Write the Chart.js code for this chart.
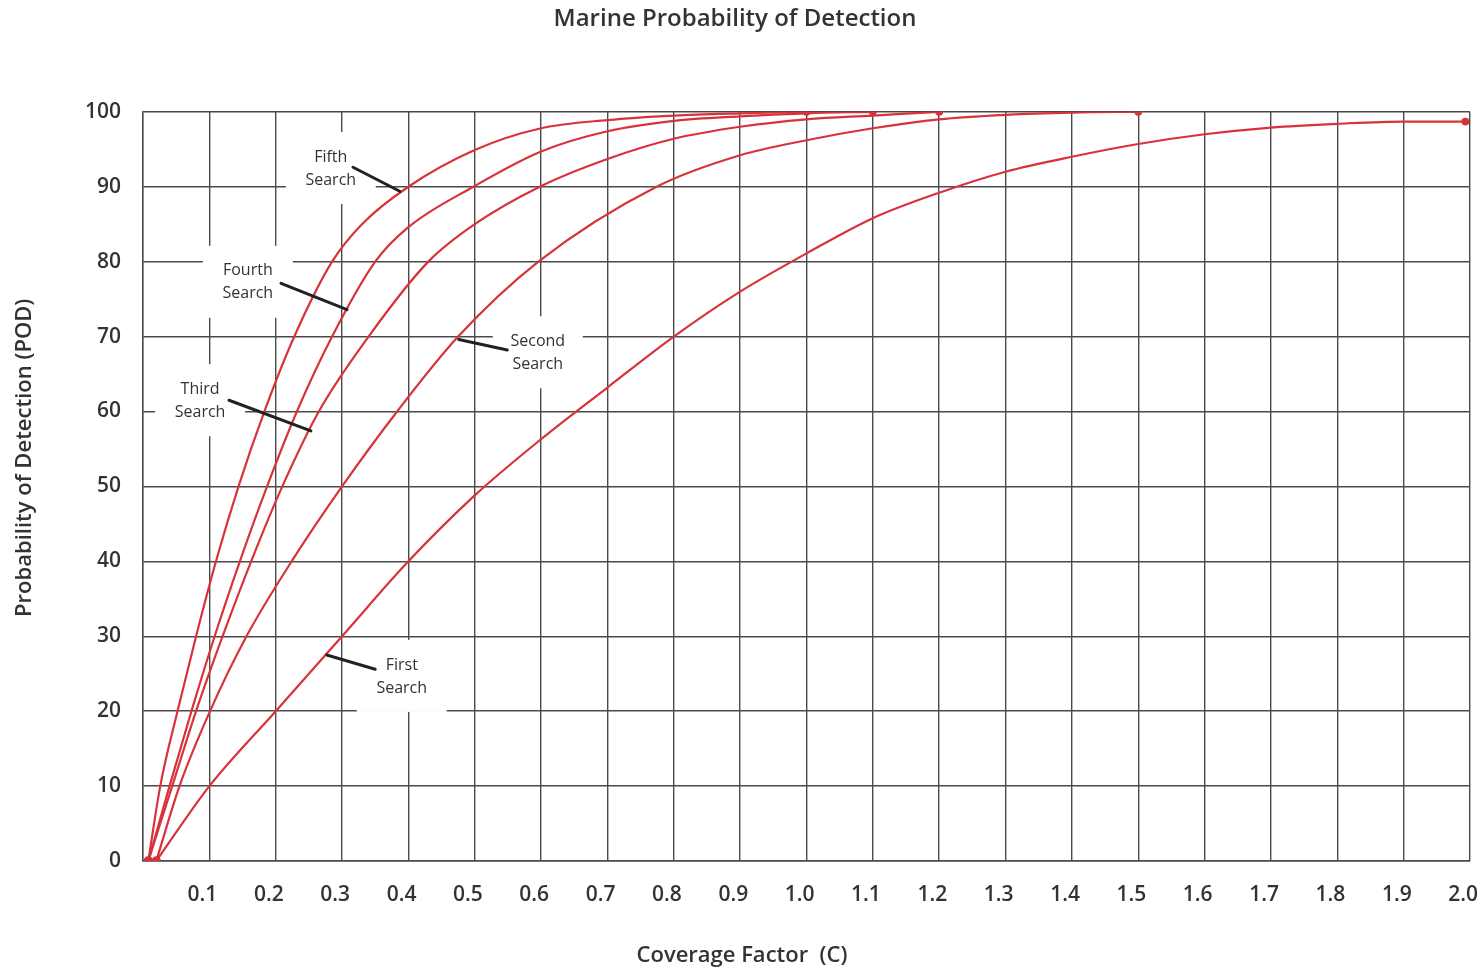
<!DOCTYPE html>
<html>
<head>
<meta charset="utf-8">
<title>Marine Probability of Detection</title>
<script src="https://cdn.jsdelivr.net/npm/chart.js@4/dist/chart.umd.min.js"></script>
<style>
  html, body { margin: 0; padding: 0; background: #fff; }
  #wrap { width: 1479px; height: 973px; position: relative; }
</style>
</head>
<body>
<div id="wrap"><canvas id="pod"></canvas></div>
<script>
// Coverage factor (C) and POD (%), one pair of arrays per search
const fifthC    = [0.008, 0.026, 0.052, 0.08, 0.11, 0.144, 0.183, 0.228, 0.285, 0.33, 0.4, 0.5, 0.6, 0.7, 0.8, 0.9, 1.0];
const fifthPOD  = [0, 10, 20, 30, 40, 50, 60, 70, 80, 85, 90, 94.9, 97.8, 98.9, 99.5, 99.8, 100];

const fourthC   = [0.008, 0.04, 0.073, 0.108, 0.146, 0.187, 0.232, 0.285, 0.35, 0.4, 0.498, 0.6, 0.7, 0.8, 0.9, 1.0, 1.1];
const fourthPOD = [0, 10, 20, 30, 40, 50, 60, 70, 80, 84.6, 90, 94.7, 97.4, 98.8, 99.4, 99.8, 100];

const thirdC    = [0.008, 0.044, 0.08, 0.12, 0.163, 0.21, 0.265, 0.34, 0.43, 0.5, 0.598, 0.7, 0.8, 0.9, 1.0, 1.1, 1.2];
const thirdPOD  = [0, 10, 20, 30, 40, 50, 60, 70, 80, 85, 90, 93.7, 96.4, 98.0, 99.0, 99.5, 100];

const secondC   = [0.02, 0.055, 0.101, 0.156, 0.224, 0.3, 0.383, 0.475, 0.596, 0.774, 0.9, 1.0, 1.1, 1.2, 1.3, 1.4, 1.5];
const secondPOD = [0, 10, 20, 30, 40, 50, 60, 70, 80, 90, 94.2, 96.2, 97.8, 99.0, 99.6, 99.9, 100];

const firstC    = [0.02, 0.1, 0.2, 0.3, 0.4, 0.5, 0.6, 0.7, 0.8, 0.9, 1.0, 1.1, 1.2, 1.3, 1.4, 1.5, 1.6, 1.7, 1.8, 1.9, 1.993];
const firstPOD  = [0, 10, 20, 30, 40, 48.8, 56.3, 63.2, 70, 76, 81.1, 85.8, 89.2, 92, 94, 95.7, 97, 97.9, 98.4, 98.7, 98.7];

// callout labels: text centre and pointer (start -> tip), all in data units
const calloutText  = [['Fifth', 'Search'], ['Fourth', 'Search'], ['Third', 'Search'], ['Second', 'Search'], ['First', 'Search']];
const calloutAt    = [[0.283, 92.5], [0.158, 77.3], [0.086, 61.5], [0.595, 67.9], [0.39, 24.7]];
const pointerFrom  = [[0.3165, 92.6], [0.208, 77.1], [0.1296, 61.5], [0.476, 69.6], [0.277, 27.5]];
const pointerTo    = [[0.387, 89.4], [0.3075, 73.6], [0.253, 57.4], [0.549, 68.2], [0.35, 25.6]];

const xTitle = 'Coverage Factor  (C)';
const yTitle = 'Probability of Detection (POD)';

const RED = '#d8323b';
const GRID = '#4a4a4a';
const INK = '#333';
const FONT = "'Open Sans', 'DejaVu Sans', sans-serif";

function pts(xs, ys) {
  return xs.map((x, i) => ({ x: x, y: ys[i] }));
}

function series(label, xs, ys) {
  const last = xs.length - 1;
  return {
    label: label,
    data: pts(xs, ys),
    borderColor: RED,
    backgroundColor: RED,
    borderWidth: 2.2,
    cubicInterpolationMode: 'monotone',
    pointRadius: ctx => ctx.dataIndex === 0 ? 3.5 : (ctx.dataIndex === last ? 2.8 : 0),
    pointHoverRadius: 0,
    fill: false
  };
}

// white boxes behind the callout text, then text + pointer lines on top
const callouts = {
  id: 'callouts',
  beforeDatasetsDraw(chart) {
    const { ctx, scales: { x, y } } = chart;
    ctx.save();
    ctx.fillStyle = '#fff';
    calloutAt.forEach(p => {
      const cx = x.getPixelForValue(p[0]);
      const cy = y.getPixelForValue(p[1]);
      ctx.fillRect(cx - 45, cy - 36, 90, 72);
    });
    ctx.restore();
  },
  afterDatasetsDraw(chart) {
    const { ctx, scales: { x, y } } = chart;
    ctx.save();
    ctx.strokeStyle = '#222';
    ctx.lineWidth = 3;
    ctx.lineCap = 'round';
    pointerFrom.forEach((p, i) => {
      ctx.beginPath();
      ctx.moveTo(x.getPixelForValue(p[0]), y.getPixelForValue(p[1]));
      ctx.lineTo(x.getPixelForValue(pointerTo[i][0]), y.getPixelForValue(pointerTo[i][1]));
      ctx.stroke();
    });
    ctx.fillStyle = INK;
    ctx.font = '16px ' + FONT;
    ctx.textAlign = 'center';
    ctx.textBaseline = 'middle';
    calloutAt.forEach((p, i) => {
      const cx = x.getPixelForValue(p[0]);
      const cy = y.getPixelForValue(p[1]);
      ctx.fillText(calloutText[i][0], cx, cy - 11);
      ctx.fillText(calloutText[i][1], cx, cy + 12);
    });
    ctx.restore();
  },
  // axis titles sit off-centre in the original, so they are placed by hand
  afterDraw(chart) {
    const { ctx, chartArea } = chart;
    ctx.save();
    ctx.fillStyle = INK;
    ctx.textAlign = 'center';
    ctx.textBaseline = 'middle';
    ctx.font = '600 22px ' + FONT;
    ctx.fillText(xTitle, chartArea.left + 599, chartArea.bottom + 95);
    ctx.translate(25, chartArea.top + 346);
    ctx.rotate(-Math.PI / 2);
    ctx.fillText(yTitle, 0, 0);
    ctx.restore();
  }
};

new Chart(document.getElementById('pod'), {
  type: 'line',
  data: {
    datasets: [
      series('Fifth Search', fifthC, fifthPOD),
      series('Fourth Search', fourthC, fourthPOD),
      series('Third Search', thirdC, thirdPOD),
      series('Second Search', secondC, secondPOD),
      series('First Search', firstC, firstPOD)
    ]
  },
  options: {
    responsive: true,
    maintainAspectRatio: false,
    animation: false,
    layout: { padding: { left: 0, right: 9, top: 0, bottom: 0 } },
    plugins: {
      legend: { display: false },
      tooltip: { enabled: false },
      title: {
        display: true,
        text: 'Marine Probability of Detection',
        color: INK,
        font: { family: FONT, size: 24, weight: '600' },
        padding: { top: 5, bottom: 78 }
      }
    },
    scales: {
      x: {
        type: 'linear',
        min: 0,
        max: 2,
        afterFit: s => { s.height = 112; s.paddingLeft = 0; s.paddingRight = 0; },
        grid: { color: GRID, lineWidth: 1.4, drawTicks: false },
        border: { color: GRID, width: 1.4 },
        ticks: {
          stepSize: 0.1,
          autoSkip: false,
          maxRotation: 0,
          align: 'end',
          labelOffset: 8,
          padding: 21,
          color: INK,
          font: { family: FONT, size: 21, weight: '600' },
          callback: v => v === 0 ? '' : v.toFixed(1)
        }
      },
      y: {
        min: 0,
        max: 100,
        afterFit: s => { s.width = 143; },
        grid: { color: GRID, lineWidth: 1.4, drawTicks: false },
        border: { color: GRID, width: 1.4 },
        ticks: {
          stepSize: 10,
          padding: 22,
          color: INK,
          font: { family: FONT, size: 21, weight: '600' }
        }
      }
    }
  },
  plugins: [callouts]
});
</script>
</body>
</html>
